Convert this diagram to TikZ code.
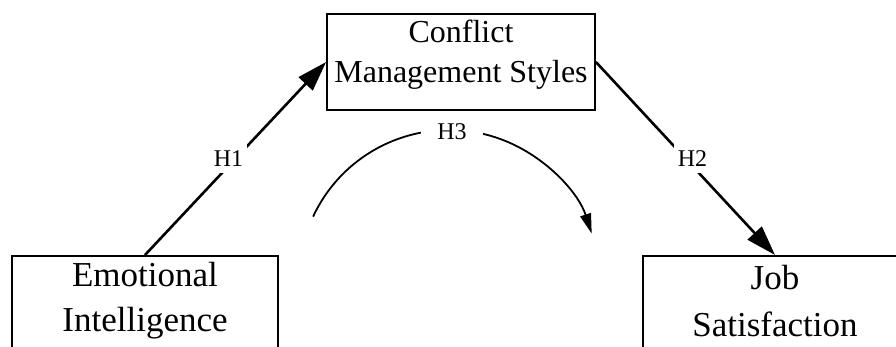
\documentclass[tikz,border=0pt]{standalone}
\usepackage{fontspec}
\setmainfont{Liberation Serif}
\usetikzlibrary{arrows.meta}
\begin{document}
\begin{tikzpicture}[x=1pt,y=1pt,
  box/.style={draw, line width=1.8pt, inner sep=0pt},
  toptext/.style={anchor=base, inner sep=0pt, font=\fontsize{32}{40}\selectfont},
  bottext/.style={anchor=base, inner sep=0pt, font=\fontsize{35}{44}\selectfont},
  mainarrow/.style={line width=2.6pt, -{Triangle[length=30pt,width=19pt]}},
  curvearrow/.style={line width=1.8pt, -{Triangle[length=20pt,width=11pt]}},
  lab/.style={fill=white, inner xsep=4pt, inner ysep=7pt, font=\fontsize{24}{28}\selectfont}]
\useasboundingbox (0,0) rectangle (896,347);

% boxes
\node[box, minimum width=268pt, minimum height=96pt] (cms) at (461,285) {};
\node[box, minimum width=266pt, minimum height=150pt, anchor=north] (ei) at (145,92) {};
\node[box, minimum width=264pt, minimum height=150pt, anchor=north] (js) at (775,92) {};

% texts
\node[toptext] (cms1) at (461,304) {Conflict};
\node[toptext] (cms2) at (461,264) {Management Styles};
\node[bottext] (ei1) at (145,60) {Emotional};
\node[bottext] (ei2) at (145,15) {Intelligence};
\node[bottext] (js1) at (775,57) {Job};
\node[bottext] (js2) at (775,10) {Satisfaction};

% arrows
\draw[mainarrow] (ei.north) -- node[lab, xshift=-7pt] (h1) {H1} (cms.west);
\draw[mainarrow] (cms.east) -- node[lab, xshift=7pt] (h2) {H2} (js.north);

% curved arrow
\coordinate (a0) at (313.1,130.4);
\draw[curvearrow] (a0) arc[start angle=155, end angle=18, radius=150];
\node[lab, inner xsep=16pt, inner ysep=4pt] (h3) at (452,215) {H3};
\end{tikzpicture}
\end{document}
